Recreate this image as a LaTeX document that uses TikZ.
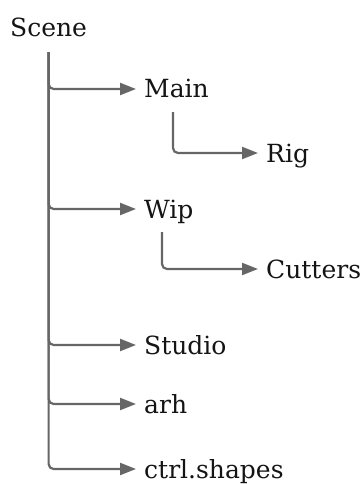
\documentclass[tikz,border=0pt]{standalone}
\usepackage{fontspec}
\setmainfont{DejaVu Serif}
\usetikzlibrary{arrows.meta}
\definecolor{linegray}{HTML}{666666}
\definecolor{inkblack}{HTML}{141414}
\begin{document}
\begin{tikzpicture}[x=1pt,y=-1pt,
  item/.style={inner sep=0pt, anchor=base west, text height=18pt, text depth=0pt,
    font=\fontsize{25}{30}\selectfont, text=inkblack},
  edge/.style={draw=linegray, line width=2.2pt, rounded corners=5pt,
    -{Triangle[length=16pt,width=12pt]}, shorten >=8pt},
]
\useasboundingbox (0,0) rectangle (362,484);

% labels of the tree
\node[item] (scene)   at (10,37)  {Scene};
\node[item] (main)    at (144,98) {Main};
\node[item] (rig)     at (266,162) {Rig};
\node[item] (wip)     at (144,218) {Wip};
\node[item] (cutters) at (266,278) {Cutters};
\node[item] (studio)  at (144,354) {Studio};
\node[item] (arh)     at (144,413) {arh};
\node[item] (ctrl)    at (144,478) {ctrl.shapes};

% branches from the root
\foreach \child in {main,wip,studio,arh,ctrl}
  \draw[edge] ([yshift=-15pt]scene.south) |- (\child.west);

% nested branches
\draw[edge] ([xshift=29pt,yshift=-14pt]main.south west) |- (rig.west);
\draw[edge] ([xshift=18pt,yshift=-14pt]wip.south west) |- (cutters.west);
\end{tikzpicture}
\end{document}
